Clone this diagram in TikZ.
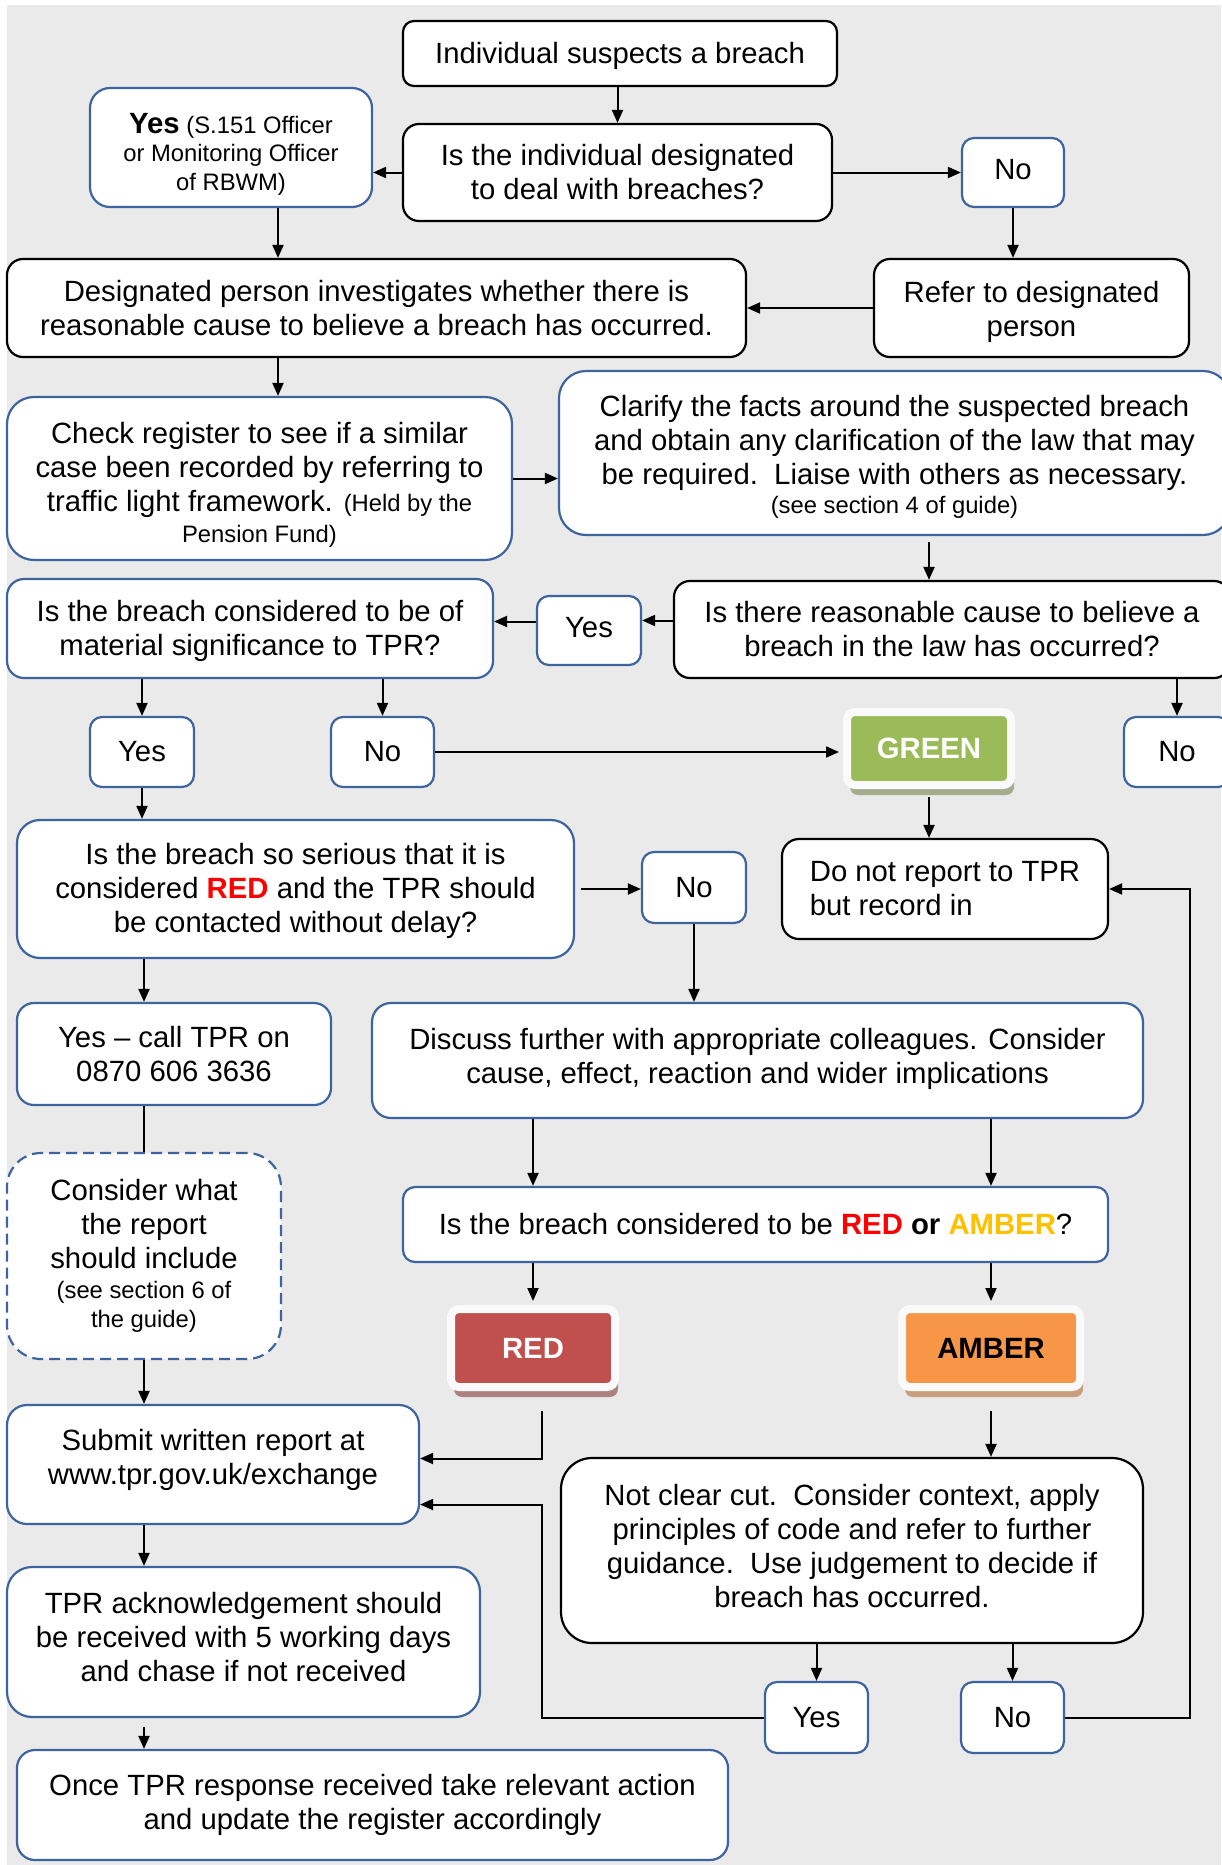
\documentclass[tikz,border=0pt]{standalone}
\usepackage{fontspec}
\setmainfont{Liberation Sans}
\usepackage{xcolor}
\usetikzlibrary{positioning}
\usetikzlibrary{arrows.meta, shadows}

\definecolor{bggrey}{RGB}{234,234,234}
\definecolor{boxblue}{RGB}{61,100,158}
\definecolor{greenfill}{RGB}{155,187,89}
\definecolor{redfill}{RGB}{192,80,77}
\definecolor{amberfill}{RGB}{247,150,70}
\definecolor{greenshade}{RGB}{163,172,140}
\definecolor{redshade}{RGB}{172,130,128}
\definecolor{ambershade}{RGB}{200,158,124}
\definecolor{framewhite}{RGB}{250,250,250}
\definecolor{txtred}{RGB}{255,0,0}
\definecolor{txtamber}{RGB}{255,192,0}

\newcommand{\mainsz}{\fontsize{29.3pt}{34pt}\selectfont}
\newcommand{\smallsz}{\fontsize{23.8pt}{28.5pt}\selectfont}
% struts that push a node's text down (\pushdn) or up (\pushup)
\newcommand{\pushdn}[1]{\rule{0pt}{#1}}
\newcommand{\pushup}[1]{\rule[-#1]{0pt}{#1}}

\begin{document}
\begin{tikzpicture}[x=1pt, y=-1pt]
	\tikzstyle{box} = [draw=black, fill=white, line width=2.2pt, rounded corners=14pt, align=center, inner sep=2pt, font=\mainsz]
	\tikzstyle{bbox} = [box, draw=boxblue]
	\tikzstyle{ragbox} = [draw=framewhite, line width=8pt, rounded corners=8pt, font=\mainsz\bfseries, minimum height=78pt]
	\tikzstyle{arrow} = [-{Triangle[length=13pt, width=11pt]}, line width=2pt]
	\tikzstyle{line} = [draw, line width=2pt]
	
	\fill [bggrey] (7,5) rectangle (1221,1865);
	\useasboundingbox (0,0) rectangle (1221,1865);
	
	% top of the chart
	\node [box, minimum width=434pt, minimum height=65pt, rounded corners=11pt] (start) at (620,53.5) {\pushdn{26pt}Individual suspects a breach};
	\node [box, minimum width=429pt, minimum height=97pt, rounded corners=16pt] (q1) at (617.5,172.5) {Is the individual designated\\to deal with breaches?};
	\node [bbox, minimum width=282pt, minimum height=119pt, rounded corners=20pt, font=\smallsz] (yes1) at (231,147.5) {\pushdn{33pt}{\mainsz\bfseries Yes} (S.151 Officer\\or Monitoring Officer\\of RBWM)};
	\node [bbox, minimum width=102pt, minimum height=69pt, rounded corners=12pt] (no1) at (1013,172.5) {No\strut};
	\node [box, minimum width=315pt, minimum height=98pt, rounded corners=16pt] (refer) at (1031.5,308) {\pushdn{28.5pt}Refer to designated\\person};
	\node [box, minimum width=739pt, minimum height=98pt, rounded corners=16pt] (invest) at (376.5,308) {Designated person investigates whether there is\\reasonable cause to believe a breach has occurred.};
	\node [bbox, minimum width=505pt, minimum height=163pt, rounded corners=27pt] (check) at (259.5,478.5) {\pushdn{33pt}Check register to see if a similar\\case been recorded by referring to\\traffic light framework. {\smallsz (Held by the}\\[-3pt]{\smallsz Pension Fund)}};
	\node [bbox, minimum width=671pt, minimum height=164pt, rounded corners=27pt] (clarify) at (894.5,453) {\pushdn{29.5pt}Clarify the facts around the suspected breach\\and obtain any clarification of the law that may\\be required.\ \ Liaise with others as necessary.\\[-5pt]{\smallsz (see section 4 of guide)}};
	\node [bbox, minimum width=486pt, minimum height=99pt, rounded corners=17pt] (material) at (250,628.5) {\pushdn{26pt}Is the breach considered to be of\\material significance to TPR?};
	\node [bbox, minimum width=104pt, minimum height=69pt, rounded corners=12pt] (yes2) at (589,630.5) {Yes\strut};
	\node [box, minimum width=556pt, minimum height=97pt, rounded corners=16pt] (reason) at (952,629.5) {Is there reasonable cause to believe a\\breach in the law has occurred?};
	
	% middle
	\node [bbox, minimum width=104pt, minimum height=70pt, rounded corners=12pt] (yes3) at (142,752) {Yes};
	\node [bbox, minimum width=103pt, minimum height=70pt, rounded corners=12pt] (no2) at (382.5,752) {No};
	\node [ragbox, fill=greenfill, text=white, minimum width=164pt, minimum height=73pt, drop shadow={shadow xshift=3pt, shadow yshift=-10pt, fill=greenshade, opacity=1}] (green) at (929,748.5) {GREEN};
	\node [bbox, minimum width=106pt, minimum height=70pt, rounded corners=12pt] (no3) at (1177,752) {No};
	\node [bbox, minimum width=557pt, minimum height=138pt, rounded corners=23pt] (serious) at (295.5,889) {\pushdn{26pt}Is the breach so serious that it is\\considered \textcolor{txtred}{\bfseries RED} and the TPR should\\be contacted without delay?};
	\node [bbox, minimum width=104pt, minimum height=71pt, rounded corners=12pt] (no4) at (694,887.5) {No};
	\node [box, minimum width=326pt, minimum height=100pt, rounded corners=17pt, align=left] (donot) at (945,889) {Do not report to TPR\\but record in};
	\node [bbox, minimum width=314pt, minimum height=102pt, rounded corners=17pt] (yescall) at (174,1054) {Yes – call TPR on\\0870 606 3636};
	\node [bbox, minimum width=771pt, minimum height=115pt, rounded corners=19pt] (discuss) at (757.5,1060.5) {Discuss further with appropriate colleagues. Consider\\cause, effect, reaction and wider implications\pushup{9pt}};
	\node [bbox, dash pattern=on 11pt off 6pt, minimum width=274pt, minimum height=206pt, rounded corners=34pt] (consider) at (144,1256) {Consider what\\the report\\should include\\[-4pt]{\smallsz (see section 6 of}\\[-5pt]{\smallsz the guide)}};
	\node [bbox, minimum width=705pt, minimum height=75pt, rounded corners=12pt] (redamber) at (755.5,1224.5) {Is the breach considered to be \textcolor{txtred}{\bfseries RED} {\bfseries or} \textcolor{txtamber}{\bfseries AMBER}?};
	\node [ragbox, fill=redfill, text=white, minimum width=164pt, drop shadow={shadow xshift=3pt, shadow yshift=-10pt, fill=redshade, opacity=1}] (red) at (533,1348) {RED};
	\node [ragbox, fill=amberfill, text=black, minimum width=178pt, drop shadow={shadow xshift=3pt, shadow yshift=-10pt, fill=ambershade, opacity=1}] (amber) at (991,1348) {AMBER};
	
	% bottom
	\node [bbox, minimum width=412pt, minimum height=119pt, rounded corners=20pt] (submit) at (213,1464.5) {Submit written report at\\www.tpr.gov.uk/exchange\pushup{15.5pt}};
	\node [box, minimum width=582pt, minimum height=185pt, rounded corners=31pt] (notclear) at (852,1550.5) {Not clear cut.\ \ Consider context, apply\\principles of code and refer to further\\guidance.\ \ Use judgement to decide if\\breach has occurred.\pushup{10pt}};
	\node [bbox, minimum width=473pt, minimum height=150pt, rounded corners=25pt] (tpr) at (243.5,1642) {TPR acknowledgement should\\be received with 5 working days\\and chase if not received\pushup{11pt}};
	\node [bbox, minimum width=103pt, minimum height=71pt, rounded corners=12pt] (yes5) at (816.5,1717.5) {Yes};
	\node [bbox, minimum width=103pt, minimum height=71pt, rounded corners=12pt] (no5) at (1012.5,1717.5) {No};
	\node [bbox, minimum width=711pt, minimum height=110pt, rounded corners=18pt] (once) at (372.5,1805) {Once TPR response received take relevant action\\and update the register accordingly};
	
	\coordinate (colA) at ([xshift=47pt]yes1.south);
	\coordinate (colG) at ([xshift=9pt, yshift=-20pt]red.south);
	
	\draw [arrow] (start.south -| q1.north) -- (q1.north);
	\draw [arrow] (q1.west) -- (q1.west -| yes1.east);
	\draw [arrow] (q1.east) -- (q1.east -| no1.west);
	\draw [arrow] (colA) -- (colA |- invest.north);
	\draw [arrow] (no1.south) -- (no1.south |- refer.north);
	\draw [arrow] (refer.west) -- (refer.west -| invest.east);
	\draw [arrow] (invest.south -| colA) -- (check.north -| colA);
	\draw [arrow] (check.east) -- (check.east -| clarify.west);
	\draw [arrow, shorten <=6pt] (clarify.south -| green.north) -- (reason.north -| green.north);
	\draw [arrow] ([yshift=9pt]reason.west) -- ([yshift=9pt]reason.west -| yes2.east);
	\draw [arrow] ([yshift=9pt]yes2.west) -- ([yshift=9pt]yes2.west -| material.east);
	\draw [arrow] (reason.south -| no3.north) -- (no3.north);
	\draw [arrow] (material.south -| yes3.north) -- (yes3.north);
	\draw [arrow] (material.south -| no2.north) -- (no2.north);
	\draw [arrow, shorten >=4pt] (no2.east) -- (no2.east -| green.west);
	\draw [arrow, shorten <=8pt] (green.south) -- (green.south |- donot.north);
	\draw [arrow] (yes3.south) -- (yes3.south |- serious.north);
	\draw [arrow, shorten <=6pt] (serious.east) -- (serious.east -| no4.west);
	\draw [arrow] (no4.south) -- (no4.south |- discuss.north);
	\draw [arrow] (serious.south -| consider.north) -- (yescall.north -| consider.north);
	\draw [line] (yescall.south -| consider.north) -- (consider.north);
	\draw [arrow] (discuss.south -| red.north) -- (redamber.north -| red.north);
	\draw [arrow] (discuss.south -| amber.north) -- (redamber.north -| amber.north);
	\draw [arrow, shorten >=4pt] (redamber.south -| red.north) -- (red.north);
	\draw [arrow, shorten >=4pt] (redamber.south -| amber.north) -- (amber.north);
	\draw [arrow] (consider.south) -- (consider.south |- submit.north);
	\draw [arrow] (colG) |- ([yshift=6pt]submit.east);
	\draw [arrow, shorten <=20pt] (amber.south) -- (amber.south |- notclear.north);
	\draw [arrow] (notclear.south -| yes5.north) -- (yes5.north);
	\draw [arrow] (notclear.south -| no5.north) -- (no5.north);
	\draw [arrow] (yes5.west) -- (yes5.west -| colG) |- ([yshift=-40pt]submit.east);
	\draw [arrow] (no5.east) -- ++(125,0) |- (donot.east);
	\draw [arrow] (submit.south -| consider.south) -- (tpr.north -| consider.south);
	\draw [arrow, shorten <=9pt] (tpr.south -| consider.south) -- (once.north -| consider.south);
\end{tikzpicture}
\end{document}
